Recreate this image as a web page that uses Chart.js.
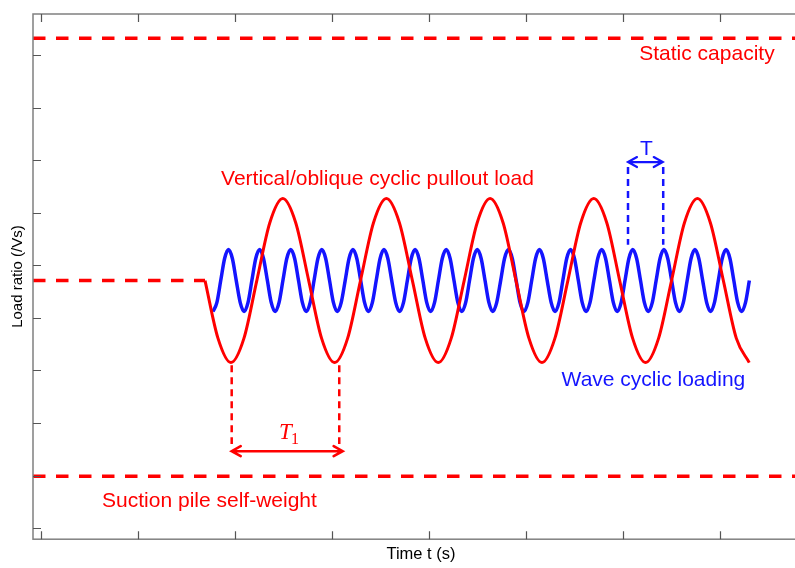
<!DOCTYPE html>
<html>
<head>
<meta charset="utf-8">
<title>Load ratio vs time</title>
<script src="https://cdn.jsdelivr.net/npm/chart.js@4"></script>
<style>
  html, body { margin: 0; padding: 0; background: #fff; overflow: hidden; }
</style>
</head>
<body>
<canvas id="loadChart" width="812" height="568"></canvas>
<script>
// axis ticks (no labels shown, only inner tick marks)
const xTicks = [0, 1, 2, 3, 4, 5, 6, 7];
const yTicks = [0, 1, 2, 3, 4, 5, 6, 7, 8, 9];

// reference levels
const levelTime = [-0.0825, 7.918];
const capacityLoad = [9.32, 9.32];
const selfWeightLoad = [0.99, 0.99];
const preloadTime = [-0.0825, 1.691];
const preloadLoad = [4.71, 4.71];

// vertical/oblique cyclic pullout load (red)
const pulloutTime = [
  1.691, 1.825, 1.958, 2.092, 2.225, 2.359, 2.493, 2.626, 2.760, 2.893,
  3.027, 3.161, 3.294, 3.428, 3.561, 3.695, 3.829, 3.962, 4.096, 4.229,
  4.363, 4.497, 4.630, 4.764, 4.897, 5.031, 5.165, 5.298, 5.432, 5.565,
  5.699, 5.833, 5.966, 6.100, 6.233, 6.367, 6.501, 6.634, 6.768, 6.901,
  7.035, 7.169, 7.302
];
const pulloutLoad = [
  4.71, 3.61, 3.15, 3.61, 4.71, 5.81, 6.27, 5.81,
  4.71, 3.61, 3.15, 3.61, 4.71, 5.81, 6.27, 5.81,
  4.71, 3.61, 3.15, 3.61, 4.71, 5.81, 6.27, 5.81,
  4.71, 3.61, 3.15, 3.61, 4.71, 5.81, 6.27, 5.81,
  4.71, 3.61, 3.15, 3.61, 4.71, 5.81, 6.27, 5.81,
  4.71, 3.61, 3.15
];

// wave cyclic loading (blue)
const waveTime = [
  1.773, 1.813, 1.853, 1.893, 1.933, 1.973, 2.013, 2.054, 2.094, 2.134,
  2.174, 2.214, 2.254, 2.294, 2.334, 2.374, 2.414, 2.454, 2.494, 2.534,
  2.575, 2.615, 2.655, 2.695, 2.735, 2.775, 2.815, 2.855, 2.895, 2.935,
  2.975, 3.015, 3.055, 3.095, 3.136, 3.176, 3.216, 3.256, 3.296, 3.336,
  3.376, 3.416, 3.456, 3.496, 3.536, 3.576, 3.616, 3.657, 3.697, 3.737,
  3.777, 3.817, 3.857, 3.897, 3.937, 3.977, 4.017, 4.057, 4.097, 4.137,
  4.178, 4.218, 4.258, 4.298, 4.338, 4.378, 4.418, 4.458, 4.498, 4.538,
  4.578, 4.618, 4.658, 4.698, 4.739, 4.779, 4.819, 4.859, 4.899, 4.939,
  4.979, 5.019, 5.059, 5.099, 5.139, 5.179, 5.219, 5.260, 5.300, 5.340,
  5.380, 5.420, 5.460, 5.500, 5.540, 5.580, 5.620, 5.660, 5.700, 5.740,
  5.781, 5.821, 5.861, 5.901, 5.941, 5.981, 6.021, 6.061, 6.101, 6.141,
  6.181, 6.221, 6.261, 6.302, 6.342, 6.382, 6.422, 6.462, 6.502, 6.542,
  6.582, 6.622, 6.662, 6.702, 6.742, 6.782, 6.822, 6.863, 6.903, 6.943,
  6.983, 7.023, 7.063, 7.103, 7.143, 7.183, 7.223, 7.263, 7.303
];
const waveLoad = [
  4.12, 4.29, 4.71, 5.13, 5.30, 5.13, 4.71, 4.29,
  4.12, 4.29, 4.71, 5.13, 5.30, 5.13, 4.71, 4.29,
  4.12, 4.29, 4.71, 5.13, 5.30, 5.13, 4.71, 4.29,
  4.12, 4.29, 4.71, 5.13, 5.30, 5.13, 4.71, 4.29,
  4.12, 4.29, 4.71, 5.13, 5.30, 5.13, 4.71, 4.29,
  4.12, 4.29, 4.71, 5.13, 5.30, 5.13, 4.71, 4.29,
  4.12, 4.29, 4.71, 5.13, 5.30, 5.13, 4.71, 4.29,
  4.12, 4.29, 4.71, 5.13, 5.30, 5.13, 4.71, 4.29,
  4.12, 4.29, 4.71, 5.13, 5.30, 5.13, 4.71, 4.29,
  4.12, 4.29, 4.71, 5.13, 5.30, 5.13, 4.71, 4.29,
  4.12, 4.29, 4.71, 5.13, 5.30, 5.13, 4.71, 4.29,
  4.12, 4.29, 4.71, 5.13, 5.30, 5.13, 4.71, 4.29,
  4.12, 4.29, 4.71, 5.13, 5.30, 5.13, 4.71, 4.29,
  4.12, 4.29, 4.71, 5.13, 5.30, 5.13, 4.71, 4.29,
  4.12, 4.29, 4.71, 5.13, 5.30, 5.13, 4.71, 4.29,
  4.12, 4.29, 4.71, 5.13, 5.30, 5.13, 4.71, 4.29,
  4.12, 4.29, 4.71, 5.13, 5.30, 5.13, 4.71, 4.29,
  4.12, 4.29, 4.71
];

// period markers
const t1Marks = [1.966, 3.075];
const t1Span = [3.10, 1.60];
const tMarks = [6.052, 6.415];
const tSpan = [6.87, 5.39];

const RED = "#ff0000";
const BLUE = "#1414ff";

const pts = (xs, ys) => xs.map((v, i) => ({ x: v, y: ys[i] }));

function dashed(data, color, width, dash) {
  return {
    data: data,
    borderColor: color,
    borderWidth: width,
    borderDash: dash,
    pointRadius: 0,
    fill: false,
  };
}

const sketchPlugin = {
  id: "sketch",
  afterDatasetsDraw(chart) {
    const { ctx, chartArea: a } = chart;
    const x = chart.scales.x;
    const y = chart.scales.y;
    ctx.save();

    // frame and inner tick marks
    ctx.strokeStyle = "#808080";
    ctx.lineWidth = 1.5;
    ctx.strokeRect(a.left, a.top, a.right - a.left, a.bottom - a.top);
    ctx.strokeStyle = "#555";
    ctx.lineWidth = 1.2;
    ctx.beginPath();
    xTicks.forEach((v) => {
      const px = Math.round(x.getPixelForValue(v)) + 0.5;
      ctx.moveTo(px, a.top);
      ctx.lineTo(px, a.top + 8);
      ctx.moveTo(px, a.bottom);
      ctx.lineTo(px, a.bottom - 8);
    });
    yTicks.forEach((v) => {
      const py = Math.round(y.getPixelForValue(v)) + 0.5;
      ctx.moveTo(a.left, py);
      ctx.lineTo(a.left + 8, py);
    });
    ctx.stroke();

    // double arrows for the periods
    function arrow(t0, t1, level, color, width) {
      const x0 = x.getPixelForValue(t0);
      const x1 = x.getPixelForValue(t1);
      const py = y.getPixelForValue(level);
      ctx.strokeStyle = color;
      ctx.lineWidth = width;
      ctx.lineCap = "round";
      ctx.beginPath();
      ctx.moveTo(x0, py);
      ctx.lineTo(x1, py);
      ctx.moveTo(x0 + 9, py - 5);
      ctx.lineTo(x0, py);
      ctx.lineTo(x0 + 9, py + 5);
      ctx.moveTo(x1 - 9, py - 5);
      ctx.lineTo(x1, py);
      ctx.lineTo(x1 - 9, py + 5);
      ctx.stroke();
    }
    arrow(1.966, 3.11, 1.465, RED, 2.6);
    arrow(6.052, 6.41, 6.964, BLUE, 2.2);

    // text notes
    ctx.font = '21px "Liberation Sans", Arial, sans-serif';
    ctx.textBaseline = "alphabetic";
    ctx.textAlign = "center";
    const notes = [
      ["Static capacity", 6.866, 8.905, RED],
      ["Vertical/oblique cyclic pullout load", 3.469, 6.526, RED],
      ["Wave cyclic loading", 6.314, 2.702, BLUE],
      ["Suction pile self-weight", 1.737, 0.40, RED],
      ["T", 6.242, 7.097, BLUE],
    ];
    notes.forEach(([txt, tx, ty, col]) => {
      ctx.fillStyle = col;
      ctx.fillText(txt, x.getPixelForValue(tx), y.getPixelForValue(ty));
    });

    // T1 label (math style)
    const lx = x.getPixelForValue(2.455);
    const ly = y.getPixelForValue(1.693);
    ctx.fillStyle = RED;
    ctx.textAlign = "left";
    ctx.font = 'italic 23px "Liberation Serif", serif';
    ctx.fillText("T", lx, ly);
    const tw = ctx.measureText("T").width;
    ctx.font = '16px "Liberation Serif", serif';
    ctx.fillText("1", lx + tw - 1, ly + 5);

    ctx.restore();
  },
};

new Chart(document.getElementById("loadChart"), {
  type: "line",
  data: {
    datasets: [
      {
        data: pts(pulloutTime, pulloutLoad),
        borderColor: RED,
        borderWidth: 3,
        pointRadius: 0,
        cubicInterpolationMode: "monotone",
        fill: false,
      },
      {
        data: pts(waveTime, waveLoad),
        borderColor: BLUE,
        borderWidth: 3.5,
        pointRadius: 0,
        cubicInterpolationMode: "monotone",
        fill: false,
      },
      dashed(pts(levelTime, capacityLoad), RED, 3.5, [12.5, 10.5]),
      dashed(pts(levelTime, selfWeightLoad), RED, 3.5, [12.5, 10.5]),
      dashed(pts(preloadTime, preloadLoad), RED, 3.5, [12.5, 10.5]),
      dashed(pts([t1Marks[0], t1Marks[0]], t1Span), RED, 2.5, [7, 5]),
      dashed(pts([t1Marks[1], t1Marks[1]], t1Span), RED, 2.5, [7, 5]),
      dashed(pts([tMarks[0], tMarks[0]], tSpan), BLUE, 2.5, [7, 5]),
      dashed(pts([tMarks[1], tMarks[1]], tSpan), BLUE, 2.5, [7, 5]),
    ],
  },
  options: {
    responsive: false,
    animation: false,
    layout: { padding: { left: 5, top: 14, right: 3, bottom: 3 } },
    plugins: {
      legend: { display: false },
      tooltip: { enabled: false },
    },
    scales: {
      x: {
        type: "linear",
        min: -0.0825,
        max: 7.918,
        afterBuildTicks: (s) => { s.ticks = xTicks.map((v) => ({ value: v })); },
        grid: { display: false, drawTicks: false },
        border: { display: false },
        ticks: { display: false },
        title: {
          display: true,
          text: "Time t (s)",
          color: "#000",
          font: { family: "Liberation Sans", size: 16.5 },
          padding: { top: 5, bottom: 1 },
        },
      },
      y: {
        type: "linear",
        min: -0.209,
        max: 9.78,
        afterBuildTicks: (s) => { s.ticks = yTicks.map((v) => ({ value: v })); },
        grid: { display: false, drawTicks: false },
        border: { display: false },
        ticks: { display: false },
        title: {
          display: true,
          text: "Load ratio (/Vs)",
          color: "#000",
          font: { family: "Liberation Sans", size: 15 },
          padding: { top: 4, bottom: 6 },
        },
      },
    },
  },
  plugins: [sketchPlugin],
});
</script>
</body>
</html>
